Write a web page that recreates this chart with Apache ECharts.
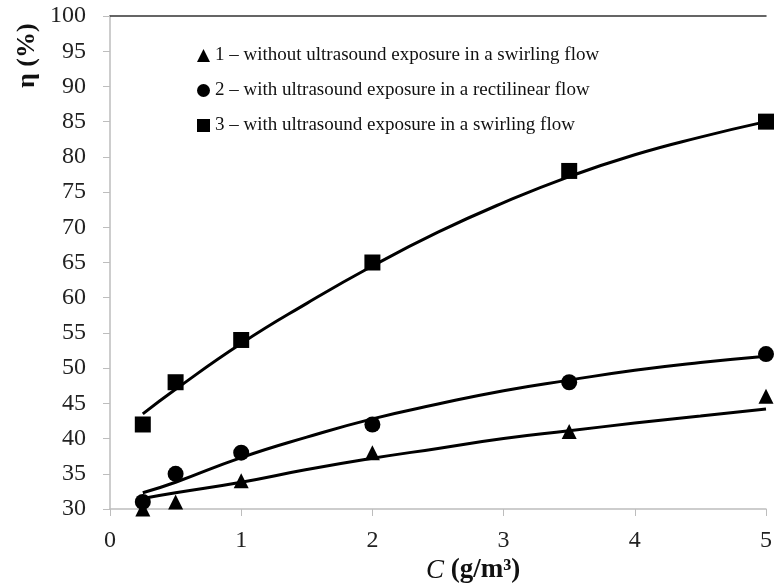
<!DOCTYPE html>
<html>
<head>
<meta charset="utf-8">
<script src="https://cdn.jsdelivr.net/npm/echarts@6/dist/echarts.min.js"></script>
<style>
  html, body { margin: 0; padding: 0; background: #fff; }
  #main { width: 775px; height: 586px; }
</style>
</head>
<body>
<div id="main"></div>
<script>
// measured points
var conc = [0.25, 0.5, 1, 2, 3.5, 5];
var eta1 = [30, 31, 34, 38, 41, 46];
var eta2 = [31, 35, 38, 42, 48, 52];
var eta3 = [42, 48, 54, 65, 78, 85];

// trend curves
var trendX = [0.25, 0.5, 1, 1.5, 2, 2.5, 3, 3.5, 4, 4.5, 5];
var trend1 = [31.5, 32.3, 33.8, 35.6, 37.2, 38.6, 40, 41.1, 42.2, 43.2, 44.2];
var trend2 = [32.3, 33.8, 37.3, 40.2, 42.8, 44.9, 46.8, 48.3, 49.7, 50.8, 51.7];
var trend3 = [43.5, 47, 53.5, 59.2, 64.5, 69.3, 73.5, 77.2, 80.3, 82.8, 85];

var names = [
    '1 – without ultrasound exposure in a swirling flow',
    '2 – with ultrasound exposure in a rectilinear flow',
    '3 – with ultrasound exposure in a swirling flow'
];

function pairs(xs, ys) {
    return xs.map(function (x, i) { return [x, ys[i]]; });
}

var font = 'Liberation Serif, Times New Roman, serif';

var chart = echarts.init(document.getElementById('main'));
var option = {
    animation: false,
    grid: { left: 110, right: 0, top: 16, bottom: 77 },
    legend: {
        orient: 'vertical',
        left: 192,
        top: 41,
        itemWidth: 13,
        itemHeight: 13,
        itemGap: 16,
        data: [
            { name: names[0], icon: 'triangle' },
            { name: names[1], icon: 'circle' },
            { name: names[2], icon: 'rect' }
        ],
        textStyle: { fontFamily: font, fontSize: 19, color: '#111' }
    },
    xAxis: [
        {
            type: 'value',
            min: 0, max: 5, interval: 1,
            axisLine: { lineStyle: { color: '#bdbdbd', width: 1.5 } },
            axisTick: { show: true, length: 7, lineStyle: { color: '#bdbdbd' } },
            splitLine: { show: false },
            axisLabel: { fontFamily: font, fontSize: 24, color: '#222', margin: 20 }
        },
        {
            type: 'value', position: 'top',
            min: 0, max: 5,
            axisLine: { show: true, lineStyle: { color: '#333', width: 1.5 } },
            axisTick: { show: false },
            axisLabel: { show: false },
            splitLine: { show: false }
        }
    ],
    yAxis: {
        type: 'value',
        min: 30, max: 100, interval: 5,
        axisLine: { show: true, lineStyle: { color: '#bdbdbd', width: 1.5 } },
        axisTick: { show: true, length: 7, lineStyle: { color: '#bdbdbd' } },
        splitLine: { show: false },
        axisLabel: { fontFamily: font, fontSize: 24, color: '#222', margin: 24 }
    },
    graphic: [
        {
            type: 'text', x: 14, y: 88, rotation: Math.PI / 2,
            style: { text: 'η (%)', fontFamily: font, fontSize: 26, fontWeight: 'bold', fill: '#111' }
        },
        {
            type: 'text', left: 426, top: 557,
            style: {
                text: '{i|C}  {b|(g/m³)}',
                rich: {
                    i: { fontFamily: font, fontSize: 27, fontStyle: 'italic', fill: '#111' },
                    b: { fontFamily: font, fontSize: 27, fontWeight: 'bold', fill: '#111' }
                }
            }
        }
    ],
    series: [
        { name: names[0], type: 'scatter', symbol: 'triangle', symbolSize: 15, itemStyle: { color: '#000', opacity: 1 }, data: pairs(conc, eta1), z: 3 },
        { name: names[1], type: 'scatter', symbol: 'circle', symbolSize: 16, itemStyle: { color: '#000', opacity: 1 }, data: pairs(conc, eta2), z: 3 },
        { name: names[2], type: 'scatter', symbol: 'rect', symbolSize: 16, itemStyle: { color: '#000', opacity: 1 }, data: pairs(conc, eta3), z: 3 },
        { type: 'line', smooth: true, showSymbol: false, lineStyle: { color: '#000', width: 3 }, data: pairs(trendX, trend1) },
        { type: 'line', smooth: true, showSymbol: false, lineStyle: { color: '#000', width: 3 }, data: pairs(trendX, trend2) },
        { type: 'line', smooth: true, showSymbol: false, lineStyle: { color: '#000', width: 3 }, data: pairs(trendX, trend3) }
    ]
};
chart.setOption(option);
</script>
</body>
</html>
